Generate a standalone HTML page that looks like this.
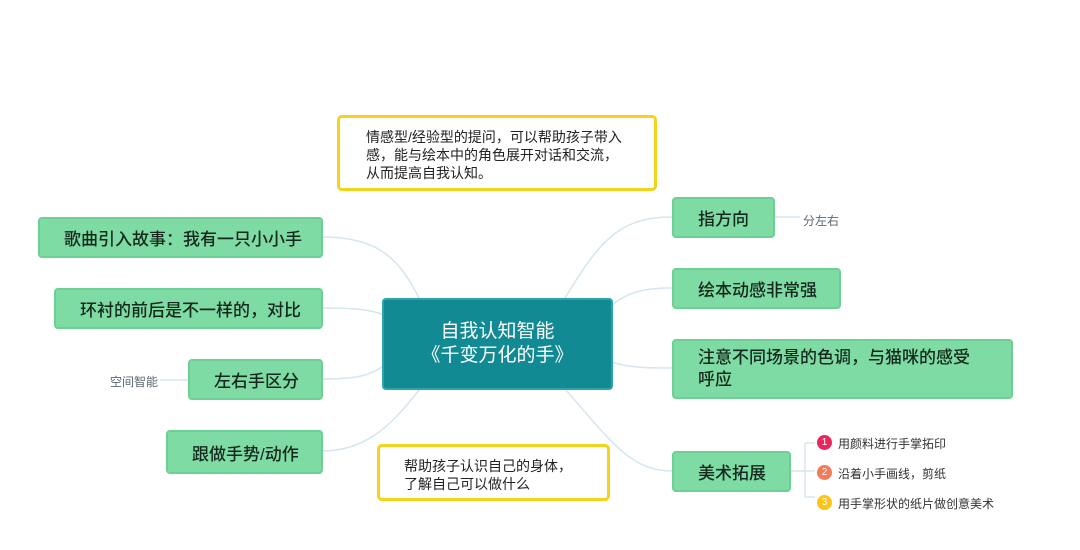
<!DOCTYPE html>
<html><head><meta charset="utf-8"><style>
body{margin:0;width:1080px;height:550px;background:#fff;position:relative;overflow:hidden;font-family:"Liberation Sans","Noto Sans CJK SC",sans-serif;}
.n{position:absolute;box-sizing:border-box;background:#7ddba3;border:2px solid #6ccf95;border-radius:4px;color:#15281d;font-size:17px;font-weight:500;display:flex;align-items:center;padding-left:24px;}
.y{position:absolute;box-sizing:border-box;background:#fff;border:3px solid #f5d21c;border-radius:5px;color:#222;font-size:14px;line-height:18px;}
.s{position:absolute;font-size:12px;color:#5a6670;}
.b{position:absolute;width:15px;height:15px;border-radius:50%;color:#fff;font-size:10px;text-align:center;line-height:15px;}
</style></head><body>
<svg width="1080" height="550" style="position:absolute;left:0;top:0" fill="none" stroke="#d5e6ee" stroke-width="1.5">
<path d="M322 237 C380 237 400 260 420 300"/>
<path d="M322 308 C360 308 370 310 385 315"/>
<path d="M322 379 C360 379 370 375 385 365"/>
<path d="M322 451 C370 451 395 420 420 389"/>
<path d="M160 380 H188"/>
<path d="M565 298 C600 240 620 217 672 217"/>
<path d="M612 305 C630 290 650 288 672 288"/>
<path d="M612 362 C630 368 650 368 672 368"/>
<path d="M565 389 C610 440 630 471 672 471"/>
<path d="M774 217 H800"/>
<path d="M790 471 H805 M805 443 V497 M805 443 H815 M805 471 H815 M805 497 H815"/>
</svg>
<div class="y" style="left:337px;top:115px;width:320px;height:76px;padding:10px 0 0 26px;">情感型/经验型的提问，可以帮助孩子带入<br>感，能与绘本中的角色展开对话和交流，<br>从而提高自我认知。</div>
<div class="n" style="left:38px;top:217px;width:285px;height:41px;">歌曲引入故事：我有一只小小手</div>
<div class="n" style="left:54px;top:288px;width:269px;height:41px;">环衬的前后是不一样的，对比</div>
<div class="n" style="left:188px;top:359px;width:135px;height:41px;">左右手区分</div>
<div class="n" style="left:166px;top:430px;width:157px;height:44px;">跟做手势/动作</div>
<div class="s" style="left:110px;top:373px;">空间智能</div>
<div style="position:absolute;left:382px;top:298px;width:231px;height:92px;background:#118a93;border:2px solid #2aa5b0;box-sizing:border-box;border-radius:4px;color:#fff;font-size:19px;line-height:24px;text-align:center;padding-top:20px;">自我认知智能<br>《千变万化的手》</div>
<div class="n" style="left:672px;top:197px;width:103px;height:41px;">指方向</div>
<div class="s" style="left:803px;top:212px;">分左右</div>
<div class="n" style="left:672px;top:268px;width:169px;height:41px;">绘本动感非常强</div>
<div class="n" style="left:672px;top:339px;width:341px;height:60px;line-height:22px;">注意不同场景的色调，与猫咪的感受<br>呼应</div>
<div class="n" style="left:672px;top:451px;width:119px;height:41px;">美术拓展</div>
<div class="b" style="left:817px;top:435px;background:#e8285a;">1</div>
<div class="s" style="left:838px;top:435px;color:#333;">用颜料进行手掌拓印</div>
<div class="b" style="left:817px;top:465px;background:#f47a5a;">2</div>
<div class="s" style="left:838px;top:465px;color:#333;">沿着小手画线，剪纸</div>
<div class="b" style="left:817px;top:495px;background:#fcc419;">3</div>
<div class="s" style="left:838px;top:495px;color:#333;">用手掌形状的纸片做创意美术</div>
<div class="y" style="left:377px;top:444px;width:233px;height:57px;padding:10px 0 0 24px;">帮助孩子认识自己的身体，<br>了解自己可以做什么</div>
</body></html>
